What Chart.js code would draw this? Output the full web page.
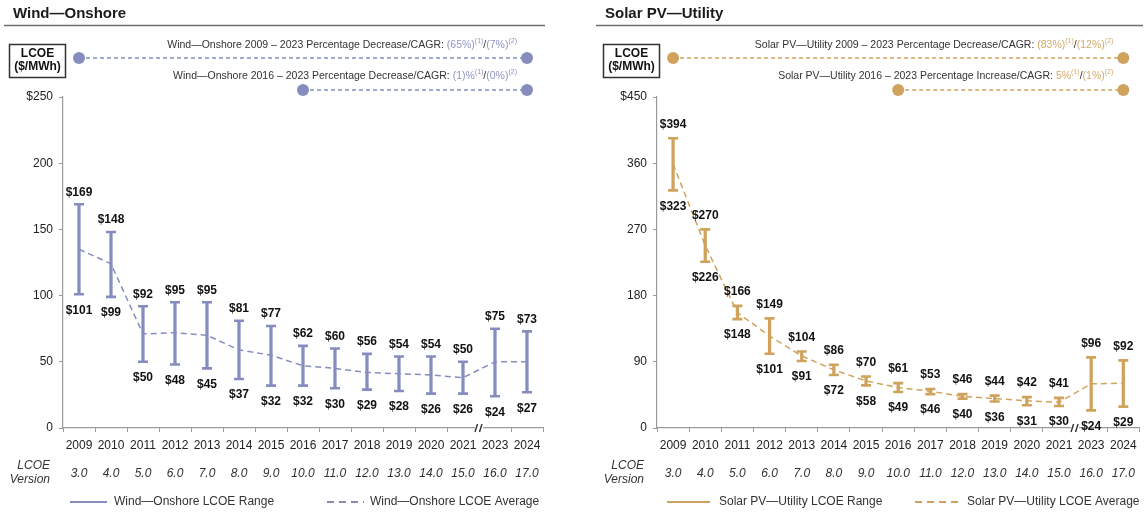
<!DOCTYPE html>
<html>
<head>
<meta charset="utf-8">
<script src="https://cdn.jsdelivr.net/npm/chart.js@4.4.1/dist/chart.umd.min.js"></script>
<style>
  html, body { margin: 0; padding: 0; background: #fff; }
  #wrap { position: relative; width: 1147px; height: 512px; overflow: hidden; background: #fff; }
  canvas { position: absolute; top: 0; }
</style>
</head>
<body>
<div id="wrap">
  <canvas id="wind" width="560" height="512" style="left:0px"></canvas>
  <canvas id="solar" width="572" height="512" style="left:575px"></canvas>
</div>
<script>
// LCOE ($/MWh) by Lazard LCOE version year
const years    = ['2009','2010','2011','2012','2013','2014','2015','2016','2017','2018','2019','2020','2021','2023','2024'];
const versions = ['3.0','4.0','5.0','6.0','7.0','8.0','9.0','10.0','11.0','12.0','13.0','14.0','15.0','16.0','17.0'];

const windHigh = [169, 148, 92, 95, 95, 81, 77, 62, 60, 56, 54, 54, 50, 75, 73];
const windLow  = [101,  99, 50, 48, 45, 37, 32, 32, 30, 29, 28, 26, 26, 24, 27];
const windAvg  = [135, 124, 71, 72, 70, 59, 55, 47, 45, 42, 41, 40, 38, 50, 50];

const solarHigh = [394, 270, 166, 149, 104, 86, 70, 61, 53, 46, 44, 42, 41, 96, 92];
const solarLow  = [323, 226, 148, 101,  91, 72, 58, 49, 46, 40, 36, 31, 30, 24, 29];
const solarAvg  = [359, 248, 157, 125,  98, 79, 64, 55, 50, 43, 40, 37, 35, 60, 61];

const windYMax = 250, windYStep = 50;
const solarYMax = 450, solarYStep = 90;

const FONT = "'Liberation Sans', Arial, Helvetica, sans-serif";
Chart.defaults.font.family = FONT;
Chart.defaults.color = '#333';

// rich text row: array of [text, font, color, dy]
function drawRich(c, segs, rightX, y) {
  let total = 0;
  segs.forEach(s => { c.font = s[1]; total += c.measureText(s[0]).width; });
  let x = rightX - total;
  c.textAlign = 'left';
  c.textBaseline = 'middle';
  segs.forEach(s => {
    c.font = s[1]; c.fillStyle = s[2];
    c.fillText(s[0], x, y + (s[3] || 0));
    x += c.measureText(s[0]).width;
  });
}

function decoPlugin(o) {
  return {
    id: 'deco',
    afterDatasetsDraw(chart) {
      const c = chart.ctx;
      // value labels above the high caps and below the low caps
      c.save();
      c.font = `bold 12px ${FONT}`;
      c.fillStyle = '#111';
      c.textAlign = 'center';
      c.textBaseline = 'middle';
      chart.data.datasets.forEach((ds, di) => {
        if (!ds.role) return;
        const meta = chart.getDatasetMeta(di);
        meta.data.forEach((pt, i) => {
          const v = ds.data[i];
          const dy = ds.role === 'hi' ? -o.labelAbove : o.labelBelow;
          c.fillText('$' + v, pt.x, pt.y + dy);
        });
      });
      c.restore();
    },
    afterDraw(chart) {
      const c = chart.ctx;
      const xs = chart.scales.x;
      const area = chart.chartArea;
      c.save();

      // panel title and rule
      c.font = `bold 15px ${FONT}`;
      c.fillStyle = '#1a1a1a';
      c.textAlign = 'left';
      c.textBaseline = 'middle';
      c.fillText(o.title, o.titleX, 14);
      c.strokeStyle = '#6e6e6e';
      c.lineWidth = 1.5;
      c.beginPath(); c.moveTo(o.ruleL, 25.5); c.lineTo(o.ruleR, 25.5); c.stroke();

      // unit box
      const bl = area.left - 54, bt = 44, bw = 56, bh = 33;
      c.fillStyle = '#fff';
      c.fillRect(bl, bt, bw, bh);
      c.strokeStyle = '#333';
      c.lineWidth = 1.5;
      c.strokeRect(bl + 0.5, bt + 0.5, bw, bh);
      c.fillStyle = '#111';
      c.font = `bold 12px ${FONT}`;
      c.textAlign = 'center';
      c.fillText('LCOE', bl + bw / 2 + 0.5, bt + 10);
      c.fillText('($/MWh)', bl + bw / 2 + 0.5, bt + 23);

      // change-over-period rows
      const rows = [
        { from: 0, to: 14, dotY: 58, textY: 45, segs: o.row1 },
        { from: 7, to: 14, dotY: 90, textY: 76, segs: o.row2 }
      ];
      rows.forEach(r => {
        const x1 = xs.getPixelForValue(r.from), x2 = xs.getPixelForValue(r.to);
        c.strokeStyle = o.color;
        c.lineWidth = 1.3;
        c.setLineDash([4, 3]);
        c.beginPath(); c.moveTo(x1, r.dotY); c.lineTo(x2, r.dotY); c.stroke();
        c.setLineDash([]);
        c.fillStyle = o.color;
        [x1, x2].forEach(x => { c.beginPath(); c.arc(x, r.dotY, 6, 0, Math.PI * 2); c.fill(); });
        drawRich(c, r.segs, x2 - 10, r.textY);
      });

      // axis break marker between 2021 and 2023
      const bx = (xs.getPixelForValue(12) + xs.getPixelForValue(13)) / 2;
      const by = area.bottom;
      c.fillStyle = '#fff';
      c.fillRect(bx - 4, by - 2, 8, 4);
      c.strokeStyle = '#333';
      c.lineWidth = 1.4;
      c.beginPath();
      c.moveTo(bx - 4, by + 4); c.lineTo(bx - 1.5, by - 4);
      c.moveTo(bx + 0.5, by + 4); c.lineTo(bx + 3, by - 4);
      c.stroke();

      // version row caption
      c.font = `italic 12px ${FONT}`;
      c.fillStyle = '#333';
      c.textAlign = 'right';
      c.textBaseline = 'middle';
      c.fillText('LCOE', area.left - 13, 466);
      c.fillText('Version', area.left - 13, 480);

      // legend
      c.font = `12px ${FONT}`;
      c.textAlign = 'left';
      o.legend.forEach(it => {
        c.strokeStyle = o.color;
        c.lineWidth = 2.2;
        c.setLineDash(it.dash ? [7, 5] : []);
        c.beginPath(); c.moveTo(it.x, 502); c.lineTo(it.x + it.len, 502); c.stroke();
        c.setLineDash([]);
        c.fillStyle = '#333';
        c.fillText(it.text, it.tx, 502);
      });
      c.restore();
    }
  };
}

function lcoeChart(id, o) {
  const color = o.color;
  return new Chart(document.getElementById(id), {
    data: {
      labels: years,
      datasets: [
        {
          type: 'bar',
          label: o.rangeName,
          data: o.low.map((l, i) => [l, o.high[i]]),
          backgroundColor: color,
          borderWidth: 0,
          barThickness: 2.6,
          order: 3
        },
        {
          type: 'line', role: 'hi',
          data: o.high,
          showLine: false,
          pointStyle: 'line',
          pointRadius: 5, pointHoverRadius: 5,
          pointBorderWidth: 2.6,
          pointBorderColor: color,
          borderColor: color,
          order: 2
        },
        {
          type: 'line', role: 'lo',
          data: o.low,
          showLine: false,
          pointStyle: 'line',
          pointRadius: 5, pointHoverRadius: 5,
          pointBorderWidth: 2.6,
          pointBorderColor: color,
          borderColor: color,
          order: 2
        },
        {
          type: 'line',
          label: o.avgName,
          data: o.avg,
          borderColor: color,
          borderWidth: 1.5,
          borderDash: [6, 4],
          pointRadius: 0,
          tension: 0,
          order: 1
        }
      ]
    },
    options: {
      responsive: false,
      animation: false,
      events: [],
      layout: { padding: { top: 97, right: o.padRight, bottom: 28, left: 0 } },
      plugins: { legend: { display: false }, tooltip: { enabled: false } },
      scales: {
        x: {
          type: 'category',
          offset: true,
          grid: { drawOnChartArea: false, offset: true, tickLength: 4, color: '#9a9a9a' },
          border: { color: '#9a9a9a', width: 1.2 },
          ticks: { padding: 6, maxRotation: 0, autoSkip: false, font: { size: 12 }, color: '#222' },
          afterFit: s => { s.height = 28; }
        },
        x2: {
          type: 'category',
          labels: versions,
          position: 'bottom',
          offset: true,
          weight: 1,
          grid: { display: false, drawTicks: false },
          border: { display: false },
          ticks: { padding: 10, maxRotation: 0, autoSkip: false, font: { size: 12, style: 'italic' }, color: '#333' },
          afterFit: s => { s.height = 28; }
        },
        y: {
          min: 0, max: o.yMax,
          grid: { drawOnChartArea: false, tickLength: 4, color: '#9a9a9a' },
          border: { color: '#9a9a9a', width: 1.2 },
          ticks: {
            stepSize: o.yStep, padding: 6, font: { size: 12 }, color: '#222',
            callback: v => (v === o.yMax ? '$' + v : String(v))
          },
          afterFit: s => { s.width = o.axisLeft; }
        }
      }
    },
    plugins: [decoPlugin(o)]
  });
}

const WIND = '#868DBE', WIND_T = '#8F95C5';
const SOLAR = '#CFA35C', SOLAR_T = '#D4A96C';
const base = `10.5px ${FONT}`, sup = `7px ${FONT}`, G = '#333';

lcoeChart('wind', {
  title: 'Wind\u2014Onshore', titleX: 13, ruleL: 4, ruleR: 545,
  color: WIND, high: windHigh, low: windLow, avg: windAvg,
  yMax: windYMax, yStep: windYStep, axisLeft: 63, padRight: 17,
  labelAbove: 12, labelBelow: 16,
  rangeName: 'Wind\u2014Onshore LCOE Range', avgName: 'Wind\u2014Onshore LCOE Average',
  row1: [['Wind\u2014Onshore 2009 \u2013 2023 Percentage Decrease/CAGR: ', base, G], ['(65%)', base, WIND_T], ['(1)', sup, WIND_T, -4], ['/', base, G], ['(7%)', base, WIND_T], ['(2)', sup, WIND_T, -4]],
  row2: [['Wind\u2014Onshore 2016 \u2013 2023 Percentage Decrease/CAGR: ', base, G], ['(1)%', base, WIND_T], ['(1)', sup, WIND_T, -4], ['/', base, G], ['(0%)', base, WIND_T], ['(2)', sup, WIND_T, -4]],
  legend: [
    { x: 70, len: 37, tx: 114, dash: false, text: 'Wind\u2014Onshore LCOE Range' },
    { x: 327, len: 37, tx: 370, dash: true, text: 'Wind\u2014Onshore LCOE Average' }
  ]
});

lcoeChart('solar', {
  title: 'Solar PV\u2014Utility', titleX: 30, ruleL: 21, ruleR: 568,
  color: SOLAR, high: solarHigh, low: solarLow, avg: solarAvg,
  yMax: solarYMax, yStep: solarYStep, axisLeft: 82, padRight: 7,
  labelAbove: 14, labelBelow: 16,
  rangeName: 'Solar PV\u2014Utility LCOE Range', avgName: 'Solar PV\u2014Utility LCOE Average',
  row1: [['Solar PV\u2014Utility 2009 \u2013 2023 Percentage Decrease/CAGR: ', base, G], ['(83%)', base, SOLAR_T], ['(1)', sup, SOLAR_T, -4], ['/', base, G], ['(12%)', base, SOLAR_T], ['(2)', sup, SOLAR_T, -4]],
  row2: [['Solar PV\u2014Utility 2016 \u2013 2023 Percentage Increase/CAGR: ', base, G], ['5%', base, SOLAR_T], ['(1)', sup, SOLAR_T, -4], ['/', base, G], ['(1%)', base, SOLAR_T], ['(2)', sup, SOLAR_T, -4]],
  legend: [
    { x: 92, len: 43, tx: 144, dash: false, text: 'Solar PV\u2014Utility LCOE Range' },
    { x: 340, len: 43, tx: 392, dash: true, text: 'Solar PV\u2014Utility LCOE Average' }
  ]
});
</script>
</body>
</html>
